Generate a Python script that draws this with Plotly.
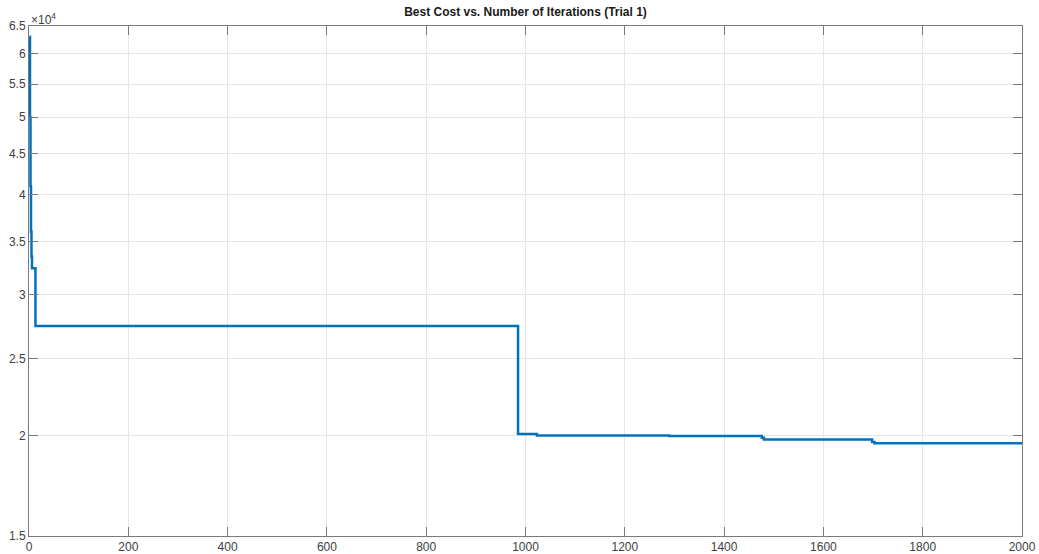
import plotly.graph_objects as go

# Iterations at which the best cost changes, and the new best cost there
change_iters = [1, 2, 3, 4, 5, 6, 13, 985, 1023, 1289, 1476, 1480, 1698, 1703, 2000]
best_cost = [63000, 50000, 41000, 36000, 33500, 32400, 27440, 20110, 20030, 19990, 19900, 19790, 19650, 19580, 19580]

x_ticks = [0, 200, 400, 600, 800, 1000, 1200, 1400, 1600, 1800, 2000]
y_ticks = [15000, 20000, 25000, 30000, 35000, 40000, 45000, 50000, 55000, 60000, 65000]
y_tick_text = ["1.5", "2", "2.5", "3", "3.5", "4", "4.5", "5", "5.5", "6", "6.5"]

fig = go.Figure()
fig.add_trace(go.Scatter(
    x=change_iters, y=best_cost, mode="lines",
    line=dict(color="#0072BD", width=2.5, shape="hv"),
    showlegend=False,
))

font = "Liberation Sans, Arial, Helvetica, sans-serif"
axis_common = dict(
    showline=True, linecolor="#7a7a7a", linewidth=1, mirror="ticks",
    ticks="inside", ticklen=9, tickcolor="#7a7a7a", tickwidth=1,
    showgrid=True, gridcolor="#e6e6e6", gridwidth=1, zeroline=False,
    automargin=False,
    tickfont=dict(family=font, size=12, color="#404040"),
)
fig.update_layout(
    width=1039, height=554,
    margin=dict(l=29, r=17, t=26, b=18, autoexpand=False),
    paper_bgcolor="white", plot_bgcolor="white",
    title=dict(text="<b>Best Cost vs. Number of Iterations (Trial 1)</b>",
               x=0.5, xref="paper", y=1, yref="container", yanchor="top", pad=dict(t=8),
               font=dict(family=font, size=12, color="#1a1a1a")),
    xaxis=dict(range=[0, 2000], tickvals=x_ticks, **axis_common),
    yaxis=dict(type="log", range=[4.176091259, 4.812913357], tickvals=y_ticks,
               ticktext=y_tick_text, **axis_common),
    annotations=[dict(text="×10<sup>4</sup>", x=0, y=1, xref="paper", yref="paper",
                      xanchor="left", yanchor="bottom", showarrow=False,
                      font=dict(family=font, size=12, color="#404040"), yshift=-3)],
)
fig.write_html("out.html")
